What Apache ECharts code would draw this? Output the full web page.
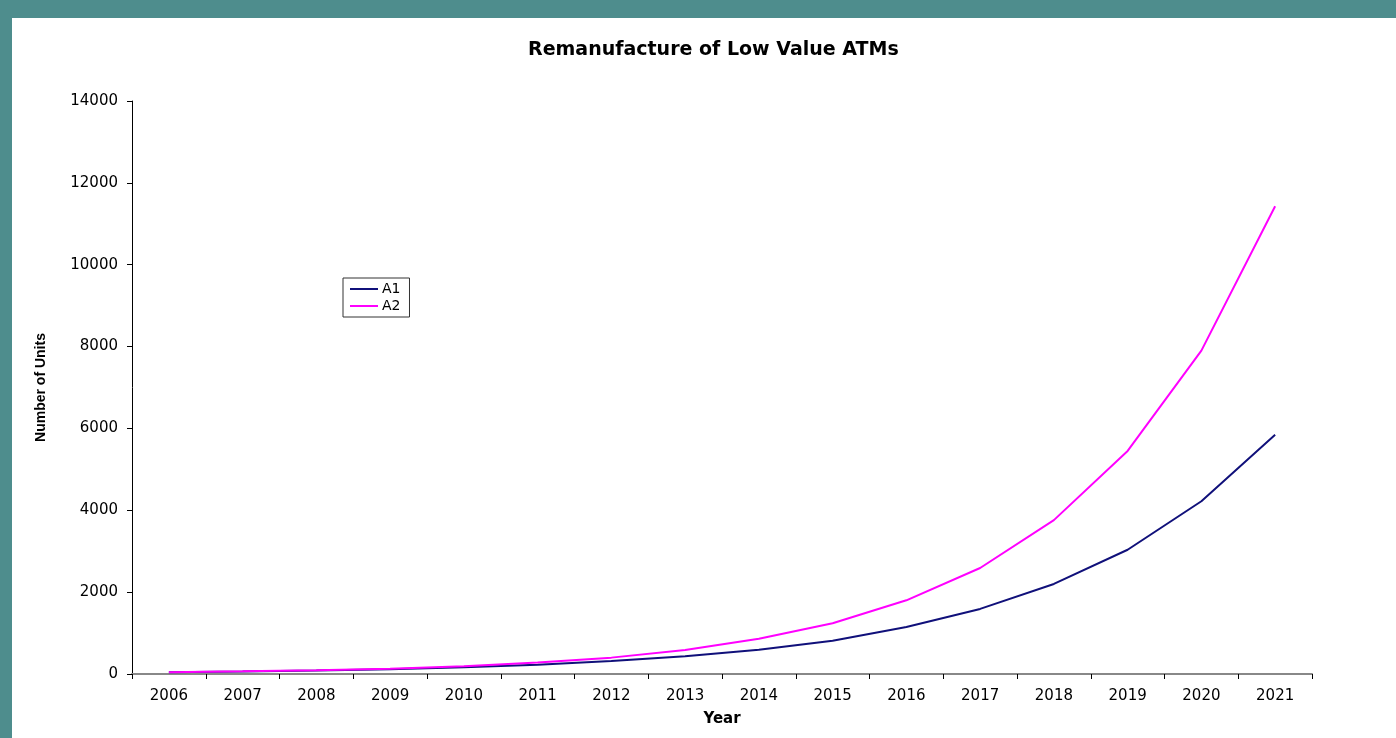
<!DOCTYPE html>
<head>
    <meta charset="utf-8">
    <title>Remanufacture of Low Value ATMs</title>
    <script src="https://cdn.jsdelivr.net/npm/echarts@6/dist/echarts.min.js"></script>
    <style>
        html, body { margin:0; padding:0; background:#4e8d8d; width:1396px; height:738px; overflow:hidden; }
        #main { position:absolute; left:12px; top:18px; width:1384px; height:720px; background:#fff; }
    </style>
</head>
<body>
<div id="main"></div>
<script type="text/javascript">
    // 年份
    var years = ['2006','2007','2008','2009','2010','2011','2012','2013','2014','2015','2016','2017','2018','2019','2020','2021'];
    // 数据
    var a1 = [45, 62, 85, 118, 165, 228, 315, 435, 595, 815, 1150, 1590, 2200, 3035, 4220, 5845];
    var a2 = [45, 65, 90, 130, 190, 280, 400, 585, 860, 1240, 1800, 2590, 3760, 5450, 7900, 11430];
    var seriesNames = ['A1', 'A2'];

    var myChart = echarts.init(document.getElementById('main'));
    var font = 'DejaVu Sans';

    var option = {
        animation: false,
        title: {
            text: 'Remanufacture of Low Value ATMs',
            left: 511,
            top: 18,
            textStyle: { fontFamily: font, fontSize: 19, fontWeight: 'bold', color: '#000' }
        },
        legend: {
            data: seriesNames,
            orient: 'vertical',
            left: 331,
            top: 260,
            borderColor: '#333',
            borderWidth: 1,
            padding: [4, 9, 4, 7],
            itemGap: 3,
            itemWidth: 28,
            itemHeight: 2,
            icon: 'rect',
            textStyle: { fontFamily: font, fontSize: 14, color: '#000', padding: [0, 0, 0, -1] }
        },
        grid: { left: 120, right: 84, top: 83, bottom: 64 },
        xAxis: {
            type: 'category',
            data: years,
            boundaryGap: true,
            name: 'Year',
            nameLocation: 'middle',
            nameGap: 38,
            nameTextStyle: { fontFamily: font, fontSize: 15, fontWeight: 'bold', color: '#000' },
            axisLine: { lineStyle: { color: '#888', width: 2 } },
            axisTick: { show: true, length: 5, lineStyle: { color: '#000' } },
            axisLabel: { fontFamily: font, fontSize: 15, color: '#000', margin: 15 },
            splitLine: { show: false }
        },
        yAxis: {
            type: 'value',
            min: 0,
            max: 14000,
            interval: 2000,
            name: 'Number of Units',
            nameLocation: 'middle',
            nameGap: 84,
            nameTextStyle: { fontFamily: 'Liberation Sans', fontSize: 14, fontWeight: 'bold', color: '#000' },
            axisLine: { show: true, lineStyle: { color: '#000', width: 1 } },
            axisTick: { show: true, length: 5, lineStyle: { color: '#000' } },
            axisLabel: {
                fontFamily: font, fontSize: 15, color: '#000', margin: 14,
                formatter: function (v) { return String(v); }
            },
            splitLine: { show: false }
        },
        series: [
            {
                name: 'A1',
                type: 'line',
                data: a1,
                showSymbol: false,
                color: '#10107a',
                lineStyle: { width: 2 }
            },
            {
                name: 'A2',
                type: 'line',
                data: a2,
                showSymbol: false,
                color: '#ff00ff',
                lineStyle: { width: 2 }
            }
        ]
    };
    myChart.setOption(option);
</script>
</body>
